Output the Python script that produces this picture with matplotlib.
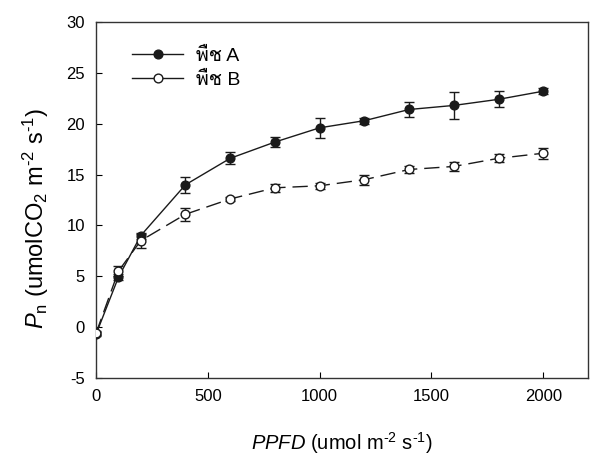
import numpy as np
import matplotlib
matplotlib.use('Agg')
import matplotlib.pyplot as plt
from matplotlib import font_manager, ft2font
from matplotlib.lines import Line2D


def find_thai_font():
    # look for any installed font that has Thai glyphs
    for f in font_manager.fontManager.ttflist:
        try:
            ft = ft2font.FT2Font(f.fname)
            if 0x0E1E in ft.get_charmap():
                return f.name
        except Exception:
            pass
    return None


thai = find_thai_font()
families = ['Liberation Sans', 'DejaVu Sans']
if thai:
    families = ['Liberation Sans', thai, 'DejaVu Sans']

plt.rcParams['font.family'] = families
plt.rcParams['mathtext.fontset'] = 'custom'
plt.rcParams['mathtext.rm'] = 'Liberation Sans'
plt.rcParams['mathtext.it'] = 'Liberation Sans:italic'
plt.rcParams['axes.unicode_minus'] = False

# data
ppfd = [0, 100, 200, 400, 600, 800, 1000, 1200, 1400, 1600, 1800, 2000]
pn_a = [-0.7, 4.9, 9.0, 14.0, 16.6, 18.2, 19.6, 20.3, 21.4, 21.8, 22.4, 23.2]
err_a = [0.2, 0.3, 0.3, 0.8, 0.6, 0.5, 1.0, 0.3, 0.7, 1.35, 0.8, 0.3]
pn_b = [-0.6, 5.5, 8.5, 11.1, 12.6, 13.7, 13.9, 14.5, 15.5, 15.8, 16.6, 17.1]
err_b = [0.2, 0.5, 0.7, 0.65, 0.2, 0.4, 0.3, 0.5, 0.35, 0.4, 0.4, 0.55]
labels = ['พืช A', 'พืช B']

ink = '#1a1a1a'
fig = plt.figure(figsize=(6.04, 4.59), dpi=100)
ax = fig.add_axes([0.159, 0.1765, 0.8145, 0.7755])

ax.errorbar(ppfd, pn_a, yerr=err_a, color=ink, marker='o', markersize=6.3,
            markerfacecolor=ink, markeredgecolor=ink, linewidth=1.0,
            elinewidth=1.0, capsize=3.6, capthick=1.0, zorder=3)
ax.errorbar(ppfd, pn_b, yerr=err_b, color=ink, marker='o', markersize=6.3,
            markerfacecolor='white', markeredgecolor=ink, linewidth=1.0,
            dashes=(11, 5), elinewidth=1.0, capsize=3.6, capthick=1.0, zorder=3)

ax.set_xlim(0, 2200)
ax.set_ylim(-5, 30)
ax.set_xticks([0, 500, 1000, 1500, 2000])
ax.set_yticks(np.arange(-5, 31, 5))
ax.tick_params(direction='in', length=4, width=0.8, labelsize=12, pad=8)
for s in ax.spines.values():
    s.set_linewidth(1.0)
    s.set_color('#333333')

# hyphen (U+2010) in superscripts, like the original
ax.set_xlabel('$PPFD$ (umol m$^{\u20102}$ s$^{\u20101}$)', fontsize=14.5, labelpad=19)
ax.set_ylabel('$P_\\mathrm{n}$ (umolCO$_2$ m$^{\u20102}$ s$^{\u20101}$)', fontsize=17, labelpad=11)
ax.yaxis.label.set_y(0.449)

handles = [
    Line2D([], [], color=ink, marker='o', markersize=6.3, markerfacecolor=ink, linewidth=1.0),
    Line2D([], [], color=ink, marker='o', markersize=6.3, markerfacecolor='white', linewidth=1.0),
]
ax.legend(handles, labels, loc='upper left', bbox_to_anchor=(0.073, 0.928),
          frameon=False, fontsize=14, handlelength=2.64, handletextpad=0.67,
          labelspacing=0.3, borderpad=0, borderaxespad=0)

fig.savefig('out.png', dpi=100)
